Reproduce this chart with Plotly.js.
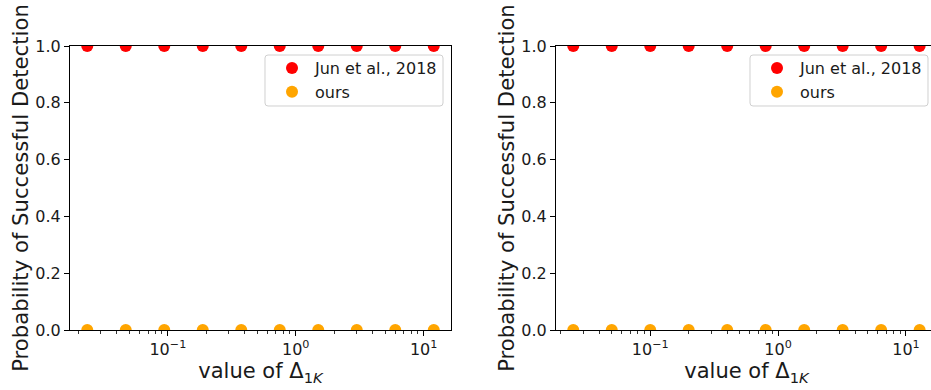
<!DOCTYPE html>
<html>
<head>
<meta charset="utf-8">
<script src="https://cdn.plot.ly/plotly-3.0.1.min.js"></script>
<style>
html, body { margin: 0; padding: 0; overflow: hidden; background: #fff; }
#chart { width: 940px; height: 390px; }
</style>
</head>
<body>
<div id="chart"></div>
<script>
// Data
const xLeft = [0.0234375, 0.046875, 0.09375, 0.1875, 0.375, 0.75, 1.5, 3, 6, 12];
const junLeft = [1, 1, 1, 1, 1, 1, 1, 1, 1, 1];
const oursLeft = [0, 0, 0, 0, 0, 0, 0, 0, 0, 0];

const xRight = [0.025, 0.05, 0.1, 0.2, 0.4, 0.8, 1.6, 3.2, 6.4, 12.8];
const junRight = [1, 1, 1, 1, 1, 1, 1, 1, 1, 1];
const oursRight = [0, 0, 0, 0, 0, 0, 0, 0, 0, 0];

const seriesNames = ["Jun et al., 2018", "ours"];
const xTickVals = [0.1, 1, 10];
const xTickText = ["10<sup>\u22121</sup>", "10<sup>0</sup>", "10<sup>1</sup>"];
const minorTickVals = [0.02,0.03,0.04,0.05,0.06,0.07,0.08,0.09,
                       0.2,0.3,0.4,0.5,0.6,0.7,0.8,0.9,
                       2,3,4,5,6,7,8,9];
const yTitle = "Probability of Successful Detection";
const xTitle = "value of \u0394<sub>1<i>K</i></sub>";

const FONT = "DejaVu Sans, sans-serif";
const TXT = "#1a1a1a";
const RED = "#ff0000";
const ORANGE = "#ffa500";

function mk(x, y, name, color, xa, ya, legend) {
  return {
    type: "scatter", mode: "markers", x: x, y: y, name: name,
    xaxis: xa, yaxis: ya, legend: legend, cliponaxis: true,
    marker: { color: color, size: 12, line: { width: 0 } }
  };
}

const traces = [
  mk(xLeft, junLeft, seriesNames[0], RED, "x", "y", "legend"),
  mk(xLeft, oursLeft, seriesNames[1], ORANGE, "x", "y", "legend"),
  mk(xRight, junRight, seriesNames[0], RED, "x2", "y2", "legend2"),
  mk(xRight, oursRight, seriesNames[1], ORANGE, "x2", "y2", "legend2")
];

function xAxis(domain, range, anchor) {
  return {
    type: "log", domain: domain, range: range, anchor: anchor,
    showline: true, linecolor: "#000", linewidth: 1, mirror: true,
    showgrid: false, zeroline: false,
    ticks: "outside", ticklen: 5, tickwidth: 1, tickcolor: "#000",
    tickmode: "array", tickvals: xTickVals, ticktext: xTickText,
    tickfont: { family: FONT, size: 16, color: TXT },
    minor: { tickmode: "array", tickvals: minorTickVals, ticks: "outside",
             ticklen: 3, tickwidth: 0.8, tickcolor: "#000", showgrid: false },
    title: { text: xTitle, font: { family: FONT, size: 21, color: TXT }, standoff: 5 },
    automargin: false, fixedrange: true
  };
}
function yAxis(domain, anchor) {
  return {
    domain: domain, range: [0, 1], anchor: anchor,
    showline: true, linecolor: "#000", linewidth: 1, mirror: true,
    showgrid: false, zeroline: false,
    ticks: "outside", ticklen: 5, tickwidth: 1, tickcolor: "#000",
    tickmode: "linear", tick0: 0, dtick: 0.2, tickformat: ".1f",
    tickfont: { family: FONT, size: 16, color: TXT },
    title: { text: yTitle, font: { family: FONT, size: 21.2, color: TXT }, standoff: 0 },
    automargin: false, fixedrange: true
  };
}

const W = 940, H = 390;
const yDom = [60 / H, 344 / H];
function legendAt(xr) {
  return {
    x: xr / W, xanchor: "right", y: (H - 51) / H, yanchor: "top",
    bgcolor: "rgba(255,255,255,0)", bordercolor: "rgba(0,0,0,0)", borderwidth: 0,
    font: { family: FONT, size: 16, color: TXT }, itemwidth: 36
  };
}
// rounded legend frame (decoration), given in pixels and converted to paper units
function frame(x0, y0, x1, y1, r) {
  const px = v => (v / W).toFixed(5);
  const py = v => ((H - v) / H).toFixed(5);
  const p = "M " + px(x0 + r) + " " + py(y0) +
    " L " + px(x1 - r) + " " + py(y0) +
    " Q " + px(x1) + " " + py(y0) + " " + px(x1) + " " + py(y0 + r) +
    " L " + px(x1) + " " + py(y1 - r) +
    " Q " + px(x1) + " " + py(y1) + " " + px(x1 - r) + " " + py(y1) +
    " L " + px(x0 + r) + " " + py(y1) +
    " Q " + px(x0) + " " + py(y1) + " " + px(x0) + " " + py(y1 - r) +
    " L " + px(x0) + " " + py(y0 + r) +
    " Q " + px(x0) + " " + py(y0) + " " + px(x0 + r) + " " + py(y0) + " Z";
  return { type: "path", xref: "paper", yref: "paper", path: p, layer: "above",
           line: { color: "#d0d0d0", width: 1 }, fillcolor: "rgba(255,255,255,0.8)" };
}

const layout = {
  width: W, height: H,
  margin: { l: 0, r: 0, t: 0, b: 0 },
  paper_bgcolor: "#ffffff", plot_bgcolor: "#ffffff",
  font: { family: FONT, color: TXT },
  showlegend: true,
  xaxis: xAxis([70 / W, 451 / W], [-1.765, 1.214], "y"),
  yaxis: yAxis(yDom, "x"),
  xaxis2: xAxis([556 / W, 937 / W], [-1.737, 1.243], "y2"),
  yaxis2: yAxis(yDom, "x2"),
  legend: legendAt(443),
  legend2: legendAt(928),
  shapes: [frame(265, 55, 443, 106, 3), frame(750, 55, 928, 106, 3)]
};

Plotly.newPlot("chart", traces, layout, { staticPlot: true, displayModeBar: false });
</script>
</body>
</html>
